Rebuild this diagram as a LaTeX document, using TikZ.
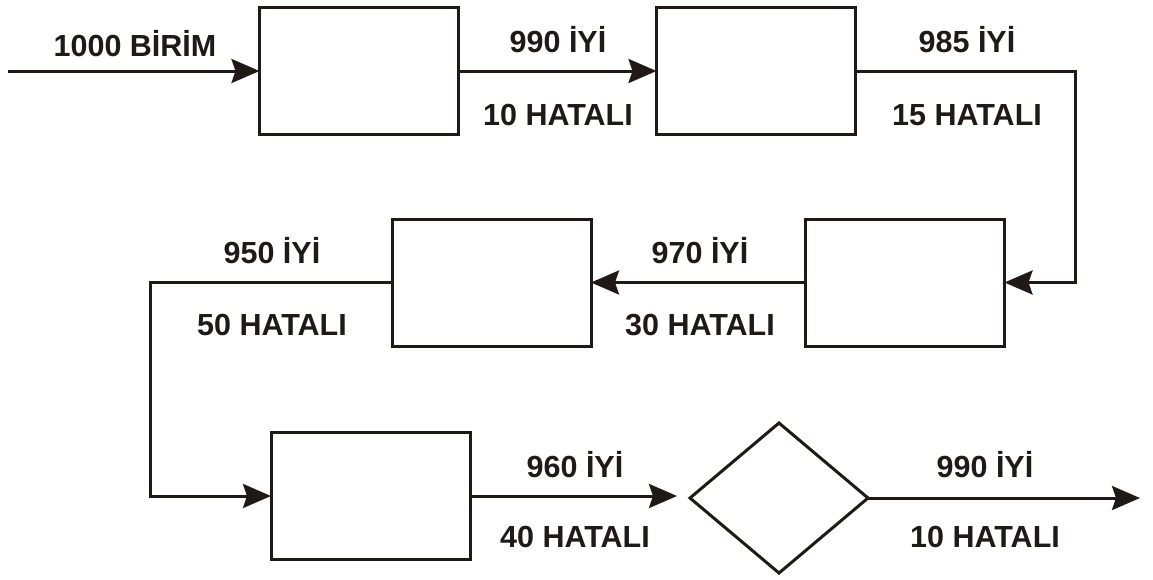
\documentclass[tikz,border=0pt]{standalone}
\usepackage{fontspec}
\setmainfont{Liberation Sans}
\usetikzlibrary{arrows.meta,shapes.geometric}
\definecolor{ink}{HTML}{1F1A17}
\begin{document}
\begin{tikzpicture}[x=1pt,y=-1pt,
  ln/.style={draw=ink,line width=3pt},
  arr/.style={ln,-{Stealth[length=28pt,width=24pt,inset=4pt]}},
  bx/.style={ln,minimum width=199pt,minimum height=127pt,inner sep=0pt,outer sep=0pt},
  lbl/.style={text=ink,font=\bfseries\fontsize{30.5}{32}\selectfont,inner sep=0pt}]
\useasboundingbox (0,0) rectangle (1153,579);
\node[bx] (b1) at (359,71) {};
\node[bx] (b2) at (756,71) {};
\node[bx] (b3) at (905,282.5) {};
\node[bx] (b4) at (491.5,282.5) {};
\node[bx] (b5) at (370.5,496) {};
\coordinate (dl) at (690,498);
\coordinate (dr) at (868,498);
\coordinate (dt) at (779,423);
\coordinate (db) at (779,573);
\draw[ln,line join=miter] (dl) -- (dt) -- (dr) -- (db) -- cycle;
\coordinate (in) at (8,71);
\coordinate (c1) at (1075,71);
\coordinate (c2) at (1075,282.5);
\coordinate (c3) at (150,282.5);
\coordinate (c4) at (150,496);
\coordinate (e5) at (677,496);
\coordinate (out) at (1140,498);
\draw[arr] (in) -- (b1.west);
\draw[arr] (b1.east) -- (b2.west);
\draw[arr] (b2.east) -- (c1) -- (c2) -- (b3.east);
\draw[arr] (b3.west) -- (b4.east);
\draw[arr] (b4.west) -- (c3) -- (c4) -- (b5.west);
\draw[arr] (b5.east) -- (e5);
\draw[arr] (dr) -- (out);
\node[lbl] (t0) at (135,44) {1000 BİRİM};
\node[lbl] (t1) at (558,40) {990 İYİ};
\node[lbl] (t2) at (558,115) {10 HATALI};
\node[lbl] (t3) at (967,40) {985 İYİ};
\node[lbl] (t4) at (967,115) {15 HATALI};
\node[lbl] (t5) at (700,251) {970 İYİ};
\node[lbl] (t6) at (700,325) {30 HATALI};
\node[lbl] (t7) at (272,251) {950 İYİ};
\node[lbl] (t8) at (272,325) {50 HATALI};
\node[lbl] (t9) at (575,465) {960 İYİ};
\node[lbl] (t10) at (575,537) {40 HATALI};
\node[lbl] (t11) at (985,465) {990 İYİ};
\node[lbl] (t12) at (985,537) {10 HATALI};
\end{tikzpicture}
\end{document}
